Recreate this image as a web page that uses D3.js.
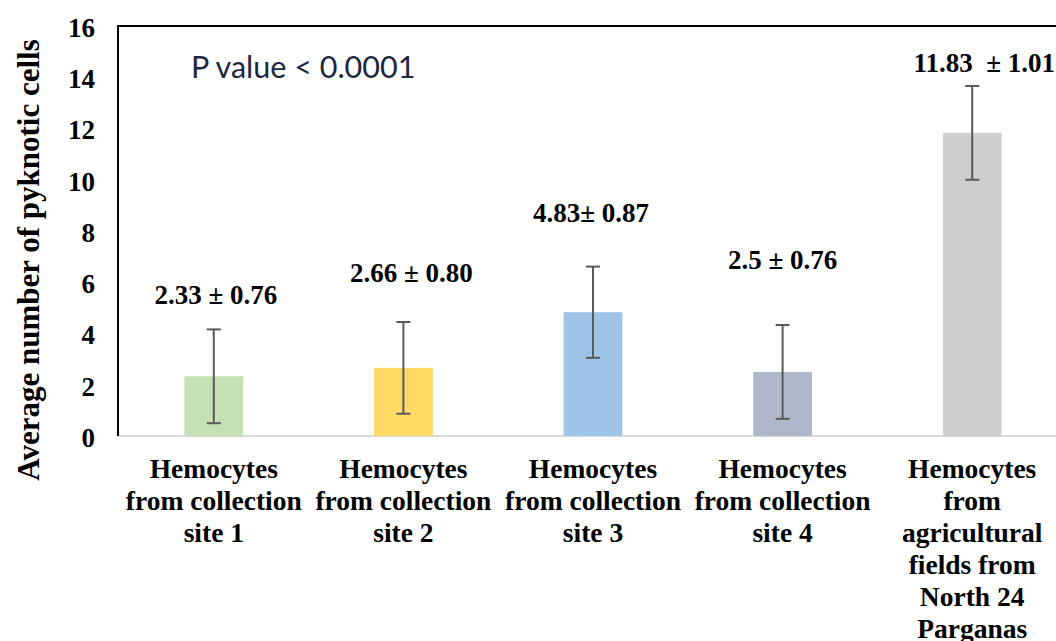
<!DOCTYPE html>
<html>
<head>
<meta charset="utf-8">
<script src="https://cdn.jsdelivr.net/npm/d3@7/dist/d3.min.js"></script>
<style>
  html, body { margin: 0; padding: 0; background: #ffffff; }
  svg { display: block; }
  text { white-space: pre; }
</style>
</head>
<body>
<svg id="chart" width="1056" height="641"></svg>
<script>
// Pyknotic cell counts per hemocyte source
const categories = [
  ["Hemocytes", "from collection", "site 1"],
  ["Hemocytes", "from collection", "site 2"],
  ["Hemocytes", "from collection", "site 3"],
  ["Hemocytes", "from collection", "site 4"],
  ["Hemocytes", "from", "agricultural", "fields from", "North 24", "Parganas"]
];
const means = [2.33, 2.66, 4.83, 2.5, 11.83];
const errorBars = [1.83, 1.79, 1.78, 1.83, 1.83];
const valueLabels = ["2.33 ± 0.76", "2.66 ± 0.80", "4.83± 0.87", "2.5 ± 0.76", "11.83  ± 1.01"];
const yTicks = [0, 2, 4, 6, 8, 10, 12, 14, 16];
const barColors = ["#c5e0b4", "#ffd966", "#9dc3e6", "#adb9ca", "#d0cece"];

// Where each value label sits, in axis units (baseline level) and a pixel nudge
const labelLevel = [5.15, 6.0, 8.35, 6.5, 14.2];
const labelNudge = [2, 8, -2, 0, 12];

const svg = d3.select("#chart");
const serif = "'Liberation Serif', 'Times New Roman', serif";
const labelSize = 27;

const plotLeft = 118, plotRight = 1067, plotTop = 26, plotBottom = 436;

const x = d3.scaleBand()
  .domain(d3.range(categories.length))
  .range([plotLeft + 1, plotRight])
  .padding(0);
const barW = x.bandwidth() * 0.31;
const cx = i => x(i) + x.bandwidth() / 2;

const y = d3.scaleLinear().domain([0, 16]).range([plotBottom, plotTop]);

// Baseline (category axis)
svg.append("line")
  .attr("x1", plotLeft).attr("x2", 1056)
  .attr("y1", y(0)).attr("y2", y(0))
  .attr("stroke", "#d9d9d9").attr("stroke-width", 2);

// Bars
svg.selectAll("rect.bar")
  .data(means)
  .join("rect")
  .attr("class", "bar")
  .attr("x", (d, i) => cx(i) - barW / 2)
  .attr("width", barW)
  .attr("y", d => y(d))
  .attr("height", d => y(0) - y(d))
  .attr("fill", (d, i) => barColors[i]);

// Error bars
const eb = svg.selectAll("g.err")
  .data(means)
  .join("g")
  .attr("class", "err")
  .attr("stroke", "#595959")
  .attr("stroke-width", 2);
eb.append("line")
  .attr("x1", (d, i) => cx(i)).attr("x2", (d, i) => cx(i))
  .attr("y1", (d, i) => y(d + errorBars[i]))
  .attr("y2", (d, i) => y(d - errorBars[i]));
eb.append("line")
  .attr("x1", (d, i) => cx(i) - 7).attr("x2", (d, i) => cx(i) + 7)
  .attr("y1", (d, i) => y(d + errorBars[i]))
  .attr("y2", (d, i) => y(d + errorBars[i]));
eb.append("line")
  .attr("x1", (d, i) => cx(i) - 7).attr("x2", (d, i) => cx(i) + 7)
  .attr("y1", (d, i) => y(d - errorBars[i]))
  .attr("y2", (d, i) => y(d - errorBars[i]));

// Value axis
const yAxis = svg.append("g")
  .attr("transform", `translate(${plotLeft},0)`)
  .call(d3.axisLeft(y).tickValues(yTicks).tickSize(0).tickPadding(23).tickFormat(d3.format("d")));
yAxis.select(".domain").remove();
yAxis.selectAll("text")
  .attr("font-family", serif)
  .attr("font-weight", "bold")
  .attr("font-size", labelSize)
  .attr("fill", "#000")
  .attr("dy", "0.38em");

// Frame lines: left and top
svg.append("line")
  .attr("x1", plotLeft).attr("x2", plotLeft)
  .attr("y1", plotTop).attr("y2", y(0))
  .attr("stroke", "#000").attr("stroke-width", 2);
svg.append("line")
  .attr("x1", plotLeft - 1).attr("x2", 1056)
  .attr("y1", plotTop).attr("y2", plotTop)
  .attr("stroke", "#000").attr("stroke-width", 2);

// Category labels
const cat = svg.selectAll("text.cat")
  .data(categories)
  .join("text")
  .attr("class", "cat")
  .attr("text-anchor", "middle")
  .attr("font-family", serif)
  .attr("font-weight", "bold")
  .attr("font-size", 27.5)
  .attr("fill", "#000");
cat.selectAll("tspan")
  .data((d, i) => d.map(t => ({ t, i })))
  .join("tspan")
  .attr("x", d => cx(d.i))
  .attr("y", (d, j) => 478 + j * 32)
  .text(d => d.t);

// Value labels
svg.selectAll("text.val")
  .data(valueLabels)
  .join("text")
  .attr("class", "val")
  .attr("text-anchor", "middle")
  .attr("x", (d, i) => cx(i) + labelNudge[i])
  .attr("y", (d, i) => y(labelLevel[i]))
  .attr("font-family", serif)
  .attr("font-weight", "bold")
  .attr("font-size", labelSize)
  .attr("fill", "#000")
  .text(d => d);

// Axis title
svg.append("text")
  .attr("transform", `translate(39,260) rotate(-90)`)
  .attr("text-anchor", "middle")
  .attr("font-family", serif)
  .attr("font-weight", "bold")
  .attr("font-size", 31)
  .attr("fill", "#000")
  .text("Average number of pyknotic cells");

// Significance note
svg.append("text")
  .attr("x", 191)
  .attr("y", 78)
  .attr("font-family", "Lato, 'Open Sans', sans-serif")
  .attr("font-size", 30.5)
  .attr("fill", "#1e2640")
  .text("P value < 0.0001");
</script>
</body>
</html>
